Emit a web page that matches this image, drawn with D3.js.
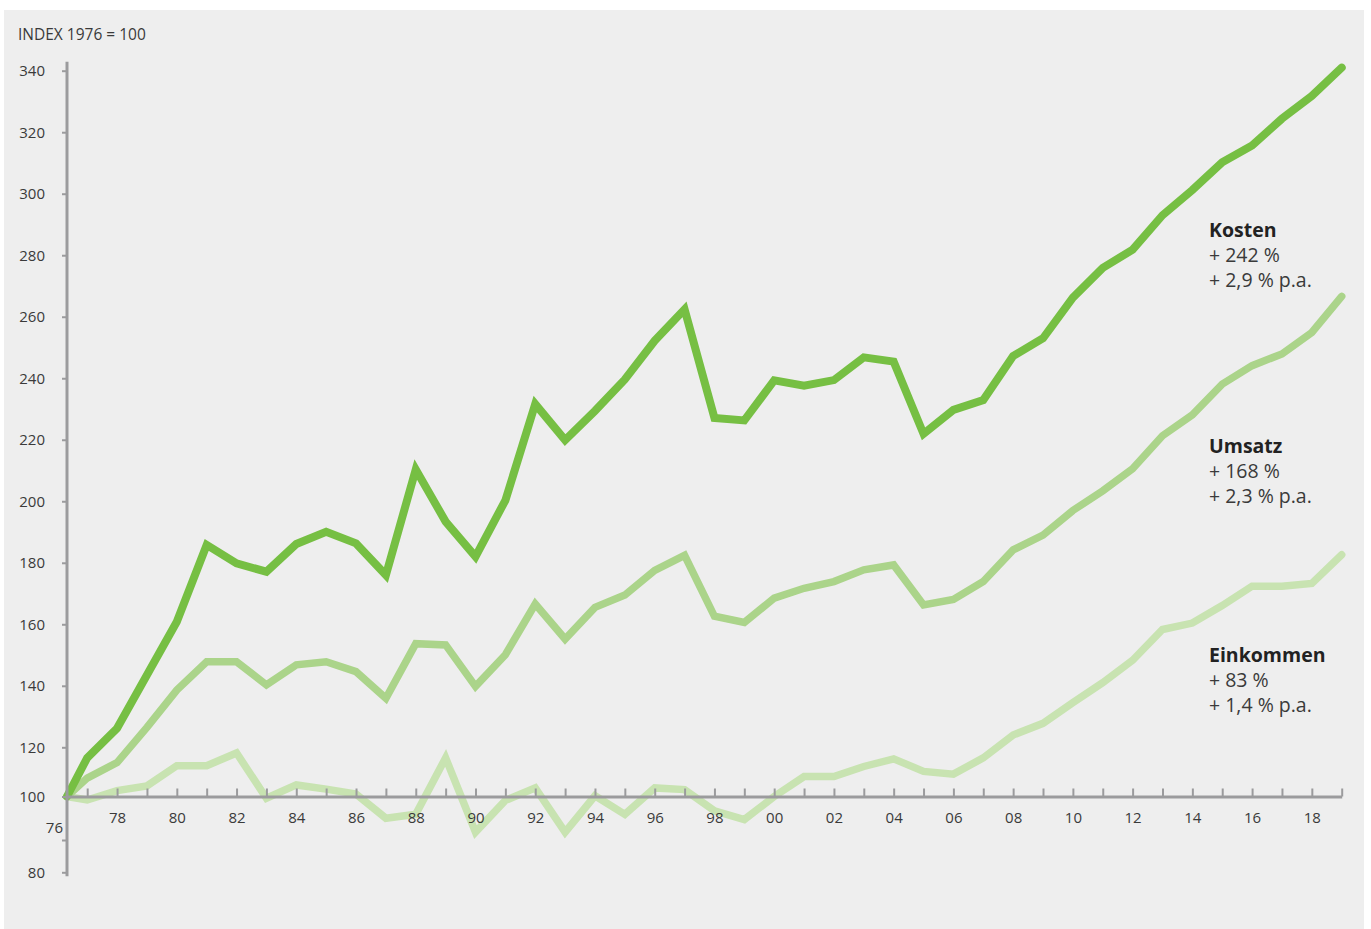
<!DOCTYPE html>
<html>
<head>
<meta charset="utf-8">
<script src="https://cdn.jsdelivr.net/npm/d3@7"></script>
<style>
  body { margin: 0; background: #fff; }
  svg { display: block; }
  text { font-family: "Open Sans", "Noto Sans", sans-serif; }
</style>
</head>
<body>
<div id="chart"></div>
<script>
// years 1976 .. 2019, index 1976 = 100
const years = d3.range(1976, 2020);

const kosten = [100, 115.7, 126.2, 143.5, 160.8, 185.8, 179.8, 177.1, 186.1, 190.1, 186.3, 176,
    210.3, 193.4, 182, 200.3, 231.6, 219.9, 229.4, 239.6, 252.2, 262.4, 227.1, 226.3,
    239.3, 237.6, 239.4, 246.8, 245.4, 221.9, 229.7, 232.9, 247.2, 253,
    266.2, 275.9, 281.8, 293, 301.2, 310.2, 315.7, 324.4, 331.8, 341];

const umsatz = [100, 107.5, 113.8, 126.5, 138.6, 147.8, 147.8, 140.3, 146.8, 147.8, 144.6, 135.9,
    153.7, 153.3, 139.8, 150.1, 166.6, 155.2, 165.5, 169.5, 177.5, 182.4, 162.6, 160.6,
    168.5, 171.7, 173.9, 177.7, 179.3, 166.3, 168.1, 173.9, 184.2, 189,
    197, 203.4, 210.6, 221.3, 228.1, 238.1, 244.1, 247.9, 254.9, 266.6];

const einkommen = [100, 99.2, 102.4, 104.3, 112.5, 112.5, 117.7, 99.6, 104.7, 103, 101, 95,
    95.9, 115.7, 91.8, 99.1, 103.5, 91.8, 100.3, 95.9, 103.5, 102.8, 96.7, 94.7,
    100, 108.1, 108.1, 112.2, 115.3, 110.2, 109.1, 115.7, 124, 127.8,
    134.5, 141, 148.3, 158.3, 160.4, 166.1, 172.4, 172.4, 173.3, 182.6];

const seriesNames = ["Kosten", "Umsatz", "Einkommen"];
const totalChange = ["+ 242 %", "+ 168 %", "+ 83 %"];
const annualChange = ["+ 2,9 % p.a.", "+ 2,3 % p.a.", "+ 1,4 % p.a."];

const yTicks = [80, 90, 100, 120, 140, 160, 180, 200, 220, 240, 260, 280, 300, 320, 340];
const yTitle = "INDEX 1976 = 100";

const width = 1371, height = 929;
const colors = ["#76bf43", "#abd48a", "#c8e3b1"];
const strokes = [8, 7.5, 7.5];
const axisColor = "#9b9b9d";
const textColor = "#3a3a3a";

const svg = d3.select("#chart").append("svg")
    .attr("width", width)
    .attr("height", height);

// grey panel
svg.append("rect")
    .attr("x", 4).attr("y", 10)
    .attr("width", 1360).attr("height", 919)
    .attr("fill", "#eeeeee");

// the original squeezes the first year and the range below 120
const x = d3.scaleLinear()
    .domain([1976, 1977, 2019])
    .range([67, 87.2, 1341.7]);

const y = d3.scaleLinear()
    .domain([80, 90, 100, 120, 340])
    .range([872.3, 840, 796.5, 747.3, 70.7]);

const line = d3.line()
    .x((d, i) => x(years[i]))
    .y(d => y(d));

// lightest at the back
const series = [kosten, umsatz, einkommen];
for(let i = series.length - 1; i >= 0; i--){
    svg.append("path")
        .datum(series[i])
        .attr("d", line)
        .attr("fill", "none")
        .attr("stroke", colors[i])
        .attr("stroke-width", strokes[i])
        .attr("stroke-linejoin", "miter")
        .attr("stroke-miterlimit", 4)
        .attr("stroke-linecap", "round");
}

// y axis
const yAxis = svg.append("g")
    .attr("transform", `translate(${x(1976)},0)`)
    .call(d3.axisLeft(y)
        .tickValues(yTicks)
        .tickSize(5)
        .tickPadding(17)
        .tickFormat(d => d === 90 ? "" : d));
yAxis.select(".domain").remove();
yAxis.selectAll(".tick line")
    .attr("stroke", axisColor)
    .attr("stroke-width", 2);
yAxis.selectAll(".tick text")
    .attr("fill", textColor)
    .style("font-size", "15px");

svg.append("line")
    .attr("x1", x(1976)).attr("x2", x(1976))
    .attr("y1", y(340) - 9).attr("y2", y(80) + 4)
    .attr("stroke", axisColor)
    .attr("stroke-width", 3);

// x axis on the 100 line, ticks point up
const xAxis = svg.append("g")
    .attr("transform", `translate(0,${y(100)})`)
    .call(d3.axisBottom(x)
        .tickValues(years.slice(1))
        .tickSizeInner(-8)
        .tickSizeOuter(0)
        .tickPadding(16)
        .tickFormat(d => d % 2 === 0 ? String(d).slice(2) : ""));
xAxis.select(".domain")
    .attr("stroke", axisColor)
    .attr("stroke-width", 3);
xAxis.selectAll(".tick line")
    .attr("stroke", axisColor)
    .attr("stroke-width", 2);
xAxis.selectAll(".tick text")
    .attr("fill", textColor)
    .style("font-size", "15px");

svg.append("text")
    .attr("x", x(1976) - 4)
    .attr("y", y(100) + 36)
    .attr("text-anchor", "end")
    .attr("fill", textColor)
    .style("font-size", "15px")
    .text(String(years[0]).slice(2));

svg.append("text")
    .attr("x", 18).attr("y", 40)
    .attr("fill", textColor)
    .style("font-size", "15.5px")
    .text(yTitle);

// series labels at the right
const labelTops = [237, 453, 662];
seriesNames.forEach((name, i) => {
    const t = svg.append("text")
        .attr("x", 1209)
        .attr("y", labelTops[i])
        .style("font-size", "19.5px");
    t.append("tspan")
        .attr("x", 1209)
        .attr("font-weight", "bold")
        .attr("fill", "#222")
        .text(name);
    t.append("tspan")
        .attr("x", 1209).attr("dy", 25)
        .attr("fill", textColor)
        .text(totalChange[i]);
    t.append("tspan")
        .attr("x", 1209).attr("dy", 25)
        .attr("fill", textColor)
        .text(annualChange[i]);
});
</script>
</body>
</html>
